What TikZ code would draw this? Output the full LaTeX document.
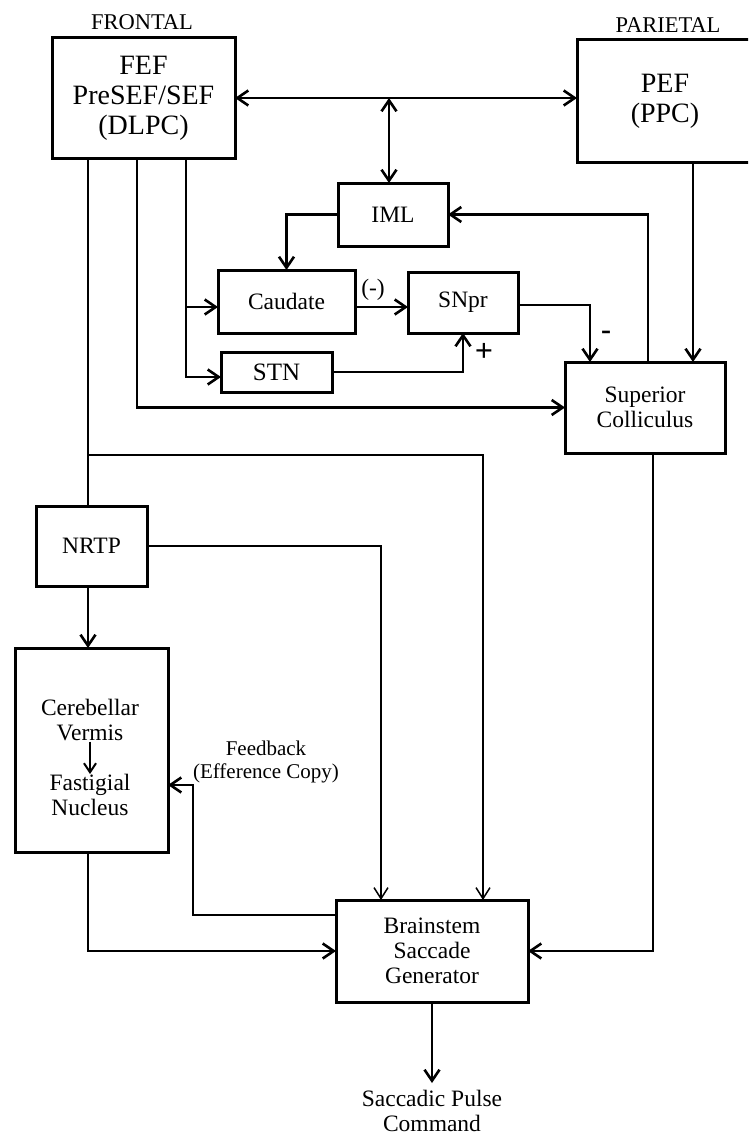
\documentclass[tikz,border=0pt]{standalone}
\usepackage{fontspec}
\setmainfont{Liberation Serif}
\usetikzlibrary{arrows.meta,calc}
\newcommand{\fsz}[2]{\fontsize{#1}{#2}\selectfont}
\begin{document}
\begin{tikzpicture}[x=1pt,y=-1pt,
  box/.style={draw, line width=3pt, inner sep=0pt, outer sep=0pt, align=center, font=\fsz{23.5}{25}},
  bigbox/.style={box, font=\fsz{28}{30}},
  txt/.style={inner sep=0pt, align=center, font=\fsz{23.5}{25}},
  conn/.style={line width=2.6pt, -{Straight Barb[length=11pt,width=15pt]}},
  dconn/.style={line width=2.6pt, {Straight Barb[length=11pt,width=15pt]}-{Straight Barb[length=11pt,width=15pt]}},
  plain/.style={line width=2.6pt},
  thinconn/.style={line width=1.5pt, -{Straight Barb[length=11pt,width=14pt]}}
]
\useasboundingbox (0,0) rectangle (748,1137);
\clip (0,0) rectangle (748,1137);

% labels
\node[txt, font=\fsz{22.5}{25}] (frontal) at (142,22) {FRONTAL};
\node[txt, font=\fsz{22.5}{25}] (parietal) at (668,25) {PARIETAL};

% boxes
\node[bigbox, minimum width=183, minimum height=120] (FEF) at (143.5,98) {FEF\\PreSEF/SEF\\(DLPC)};
\node[bigbox, minimum width=176, minimum height=122] (PEF) at (665,101) {PEF\\(PPC)};
\node[box, minimum width=110, minimum height=63] (IML) at (393,214.5) {IML};
\node[box, minimum width=137, minimum height=63] (Caudate) at (286.5,301.5) {Caudate};
\node[box, minimum width=110, minimum height=61] (SNpr) at (463,302.5) {SNpr};
\node[box, minimum width=111, minimum height=40, font=\fsz{25}{27}] (STN) at (276.5,372) {STN};
\node[box, minimum width=160, minimum height=91] (SC) at (645,407.5) {Superior\\Colliculus};
\node[box, minimum width=111, minimum height=80] (NRTP) at (91.5,546) {NRTP};
\node[box, minimum width=153, minimum height=204] (Cereb) at (91.5,750) {};
\node[box, minimum width=192, minimum height=102] (BSG) at (432,951) {Brainstem\\Saccade\\Generator};

% text inside cerebellar box
\node[txt] (verm) at (90,720.5) {Cerebellar\\Vermis};
\node[txt] (fast) at (90,795) {Fastigial\\Nucleus};
\draw[line width=2pt, -{Straight Barb[length=9pt,width=12pt]}] (verm.south) -- (fast.north);

% output
\node[txt] (out) at (432,1111) {Saccadic Pulse\\Command};

% feedback label
\node[txt, font=\fsz{21}{23}] (fb) at (266,761.5) {Feedback\\(Efference Copy)};

% helper coordinates
\coordinate (f1) at ([xshift=-55.5]FEF.south);
\coordinate (f2) at ([xshift=-6.5]FEF.south);
\coordinate (f3) at ([xshift=42.5]FEF.south);
\coordinate (j1) at (389,98);
\coordinate (b1) at (88,455);

% connectors
\draw[dconn] (FEF.east) -- (FEF.east -| PEF.west);
\draw[dconn] (j1) -- (j1 |- IML.north);
\draw[conn] (IML.west) -| (Caudate.north);
\draw[conn] ([yshift=-5.5]Caudate.east) -- ([yshift=-5.5]Caudate.east -| SNpr.west);
\node[txt] (minus1) at (373,290) {(-)};
\draw[conn] (STN.east) -| (SNpr.south);
\node[txt, font=\fsz{32}{32}\bfseries] (plus) at (484,352) {+};
\draw[conn] ([yshift=-2.5]SNpr.east) -| ([xshift=-55]SC.north);
\node[txt, font=\fsz{30}{30}\bfseries] (minus2) at (606,335) {-};
\draw[conn] ([xshift=3]SC.north) |- (IML.east);
\draw[conn] ([xshift=28]PEF.south) -- ([xshift=28]PEF.south |- SC.north);
\draw[conn] (f3) |- ([yshift=-5.5]Caudate.west);
\draw[conn] (f3) |- ([yshift=-5]STN.west);
\draw[conn] (f2) |- (SC.west);
\draw[plain] (f1) -- (f1 |- NRTP.north);
\draw[thinconn] (b1) -| ([xshift=51]BSG.north);
\draw[thinconn] (NRTP.east) -| ([xshift=-51]BSG.north);
\draw[conn] (f1 |- NRTP.south) -- (f1 |- Cereb.north);
\draw[conn] (f1 |- Cereb.south) |- (BSG.west);
\draw[conn] ([xshift=8]SC.south) |- (BSG.east);
\draw[conn] ([yshift=36]BSG.west) -| ([xshift=25,yshift=-35]Cereb.east) -- ([yshift=-35]Cereb.east);
\draw[conn] (BSG.south) -- ([yshift=-81]BSG.south);
\end{tikzpicture}
\end{document}
